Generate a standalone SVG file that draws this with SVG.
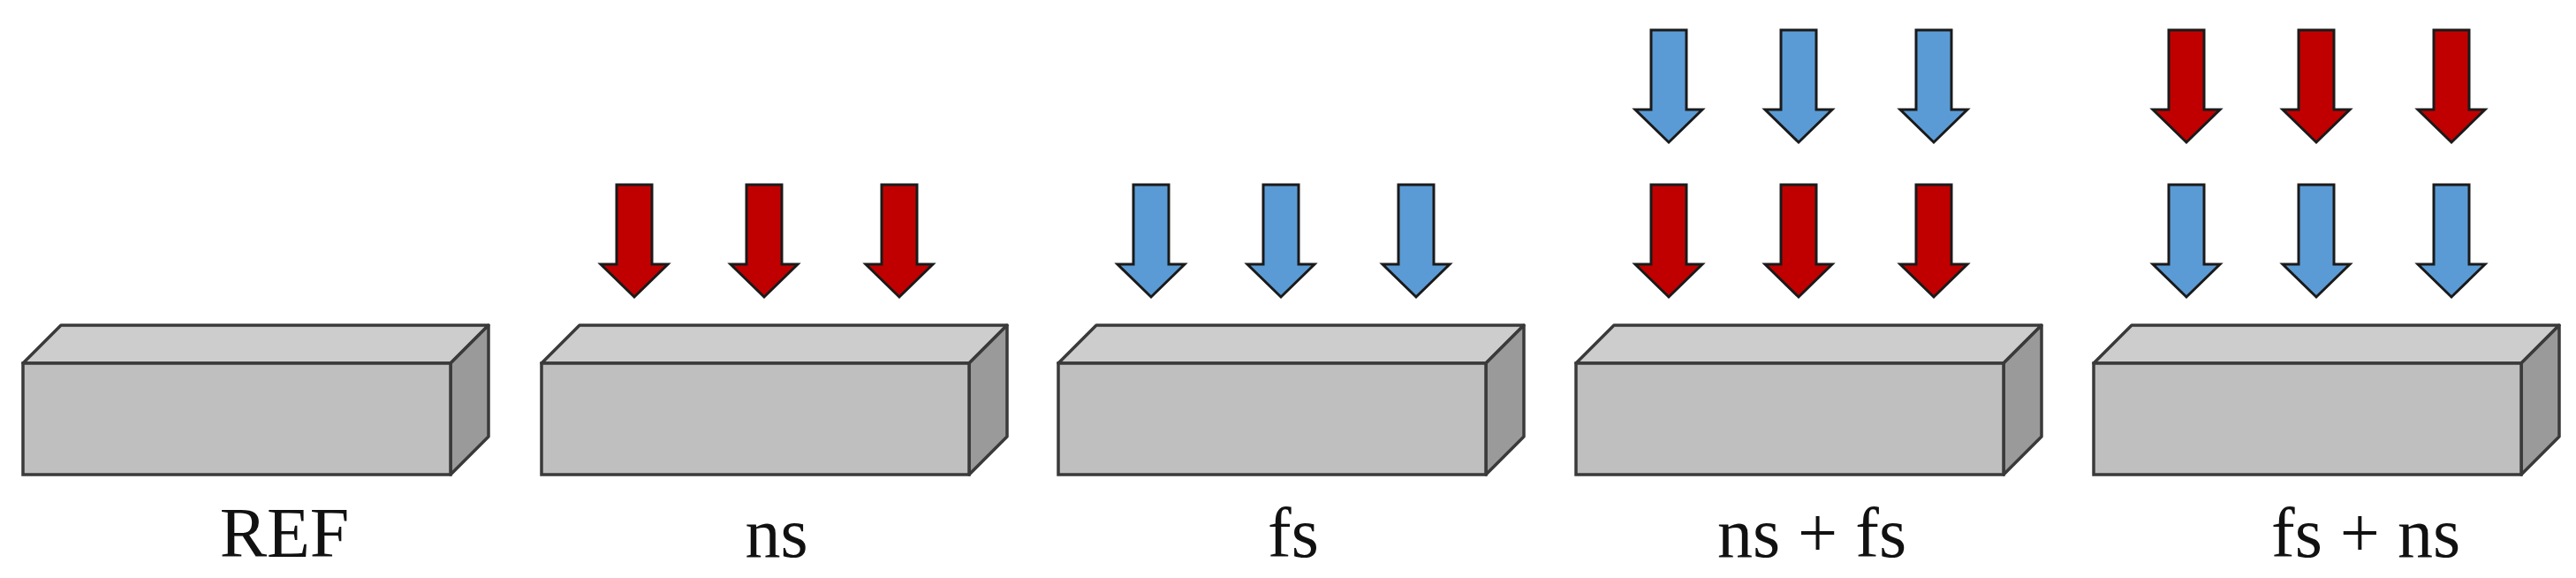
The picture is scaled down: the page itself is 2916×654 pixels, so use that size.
<svg xmlns="http://www.w3.org/2000/svg" width="2916" height="654" viewBox="0 0 2916 654">
<defs>
<style>
.front{fill:#BFBFBF;stroke:#3a3a3a;stroke-width:3.5}
.top{fill:#CDCDCD;stroke:#3a3a3a;stroke-width:3.5;stroke-linejoin:round}
.side{fill:#9A9A9A;stroke:#3a3a3a;stroke-width:3.5;stroke-linejoin:round}
.red{fill:#C00000;stroke:#1a1a1a;stroke-width:3}
.blue{fill:#5B9BD5;stroke:#1a1a1a;stroke-width:3}
.lbl{font-family:"Liberation Serif",serif;font-size:80px;fill:#111;text-anchor:middle}
</style>
<g id="box">
<polygon class="top" points="0,43 43,0 527,0 484,43"/>
<polygon class="side" points="484,43 527,0 527,126 484,169"/>
<rect class="front" x="0" y="43" width="484" height="126"/>
</g>
<path id="arr" d="M-20,0 H20 V90 H38 L0,127 L-38,90 H-20 Z"/>
</defs>
<rect width="2916" height="654" fill="#fff"/>
<g id="node-ref"><use href="#box" x="26" y="368"/><text class="lbl" x="322" y="630">REF</text></g>
<g id="node-ns"><use href="#box" x="613" y="368"/><text class="lbl" x="879" y="630">ns</text>
<use href="#arr" class="red" x="718" y="209"/><use href="#arr" class="red" x="865" y="209"/><use href="#arr" class="red" x="1018" y="209"/></g>
<g id="node-fs"><use href="#box" x="1198" y="368"/><text class="lbl" x="1464" y="630">fs</text>
<use href="#arr" class="blue" x="1303" y="209"/><use href="#arr" class="blue" x="1450" y="209"/><use href="#arr" class="blue" x="1603" y="209"/></g>
<g id="node-nsfs"><use href="#box" x="1784" y="368"/><text class="lbl" x="2051" y="630">ns + fs</text>
<use href="#arr" class="blue" x="1889" y="34"/><use href="#arr" class="blue" x="2036" y="34"/><use href="#arr" class="blue" x="2189" y="34"/>
<use href="#arr" class="red" x="1889" y="209"/><use href="#arr" class="red" x="2036" y="209"/><use href="#arr" class="red" x="2189" y="209"/></g>
<g id="node-fsns"><use href="#box" x="2370" y="368"/><text class="lbl" x="2678" y="630">fs + ns</text>
<use href="#arr" class="red" x="2475" y="34"/><use href="#arr" class="red" x="2622" y="34"/><use href="#arr" class="red" x="2775" y="34"/>
<use href="#arr" class="blue" x="2475" y="209"/><use href="#arr" class="blue" x="2622" y="209"/><use href="#arr" class="blue" x="2775" y="209"/></g>
<g id="connectors"/>
</svg>
